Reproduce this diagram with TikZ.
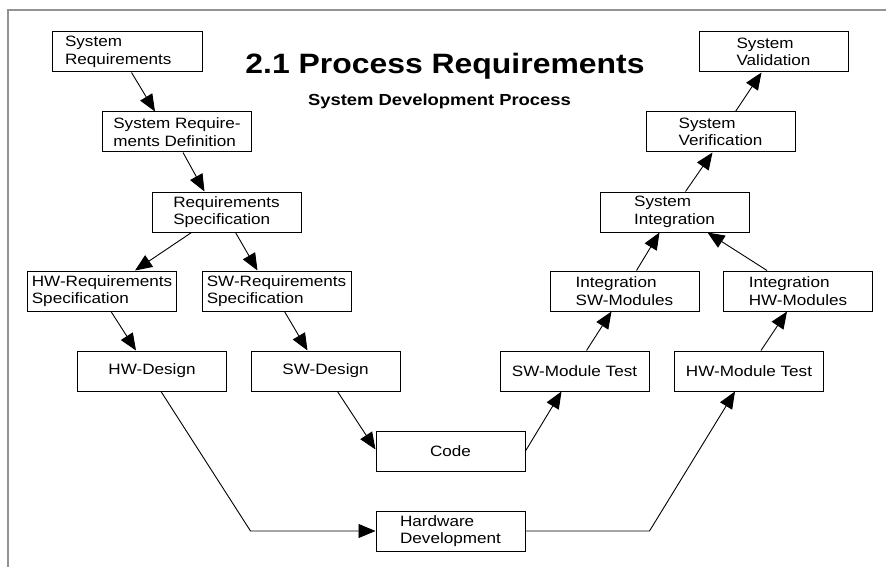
\documentclass[tikz,border=0pt]{standalone}
\usepackage{fontspec}
\usetikzlibrary{arrows.meta}
\newfontfamily\bodyfont[FakeStretch=1.14]{Liberation Sans}
\newfontfamily\titlefont[FakeStretch=1.14]{Liberation Sans}
\newfontfamily\subfont[FakeStretch=1.15]{Liberation Sans}
\begin{document}
\begin{tikzpicture}[x=1pt,y=-1pt,
  bx/.style={draw=black, line width=1pt, minimum width=149pt, minimum height=40pt,
    inner sep=1pt, align=left, font=\bodyfont\fontsize{15}{17.5}\selectfont},
  arr/.style={draw=black, line width=0.9pt, -{Triangle[length=17pt,width=14pt]}},
  frameline/.style={draw=gray!85, line width=2pt}
]
\useasboundingbox (0,0) rectangle (886,567);
\fill[white] (0,0) rectangle (886,567);
% frame
\coordinate (fc) at (8,10);
\coordinate (fr) at (886,10);
\coordinate (fb) at (8,567);
\draw[frameline] (fr) -- (fc) -- (fb);
% titles
\node[anchor=base, inner sep=0pt, font=\titlefont\bfseries\fontsize{28}{32}\selectfont] (title) at (445,74) {2.1 Process Requirements};
\node[anchor=base, inner sep=0pt, font=\subfont\bfseries\fontsize{16}{18}\selectfont] (subtitle) at (439.5,105.3) {System Development Process};
% boxes
\node[bx, text width=124pt, inner xsep=13pt] (sr) at (127,52) {System\\Requirements};
\node[bx] (srd) at (177,132) {System Require-\\ments Definition};
\node[bx] (rs) at (226.5,212) {Requirements\\Specification};
\node[bx] (hwrs) at (102,291) {HW-Requirements\\Specification};
\node[bx] (swrs) at (276.5,291) {SW-Requirements\\Specification};
\node[bx] (hwd) at (152,371) {HW-Design};
\node[bx] (swd) at (325.5,371) {SW-Design};
\node[bx] (code) at (450.5,451) {Code};
\node[bx] (hd) at (450.5,531) {Hardware\\Development};
\node[bx] (swmt) at (574.5,371) {SW-Module Test};
\node[bx] (hmt) at (749,371) {HW-Module Test};
\node[bx] (ism) at (624.5,291) {Integration\\SW-Modules};
\node[bx] (ihm) at (798,291) {Integration\\HW-Modules};
\node[bx] (si) at (674.5,212) {System\\Integration};
\node[bx] (sv) at (720.5,132) {System\\Verification};
\node[bx] (sval) at (773.5,52) {System\\Validation};
% connectors
\draw[arr] ([xshift=80pt]sr.south west) -- ([xshift=53pt]srd.north west);
\draw[arr] ([xshift=81pt]srd.south west) -- ([xshift=53pt]rs.north west);
\draw[arr] ([xshift=40pt]rs.south west) -- ([xshift=108pt]hwrs.north west);
\draw[arr] ([xshift=84pt]rs.south west) -- ([xshift=56pt]swrs.north west);
\draw[arr] ([xshift=84pt]hwrs.south west) -- ([xshift=59pt]hwd.north west);
\draw[arr] ([xshift=83pt]swrs.south west) -- ([xshift=57pt]swd.north west);
\draw[arr] ([xshift=87pt]swd.south west) -- ([yshift=1.5pt]code.west);
\draw[arr] (code.east) -- ([xshift=62pt]swmt.south west);
\draw[arr] ([xshift=84pt]hwd.south west) -- ([xshift=-125pt]hd.west) -- (hd.west);
\draw[arr] (hd.east) -- ([xshift=124pt]hd.east) -- ([xshift=61pt]hmt.south west);
\draw[arr] ([xshift=87pt]swmt.north west) -- ([xshift=62pt]ism.south west);
\draw[arr] ([xshift=87pt]hmt.north west) -- ([xshift=64pt]ihm.south west);
\draw[arr] ([xshift=87pt]ism.north west) -- ([xshift=60pt]si.south west);
\draw[arr] ([xshift=44pt]ihm.north west) -- ([xshift=108pt]si.south west);
\draw[arr] ([xshift=86pt]si.north west) -- ([xshift=67pt]sv.south west);
\draw[arr] ([xshift=90pt]sv.north west) -- ([xshift=63pt]sval.south west);
\end{tikzpicture}
\end{document}
